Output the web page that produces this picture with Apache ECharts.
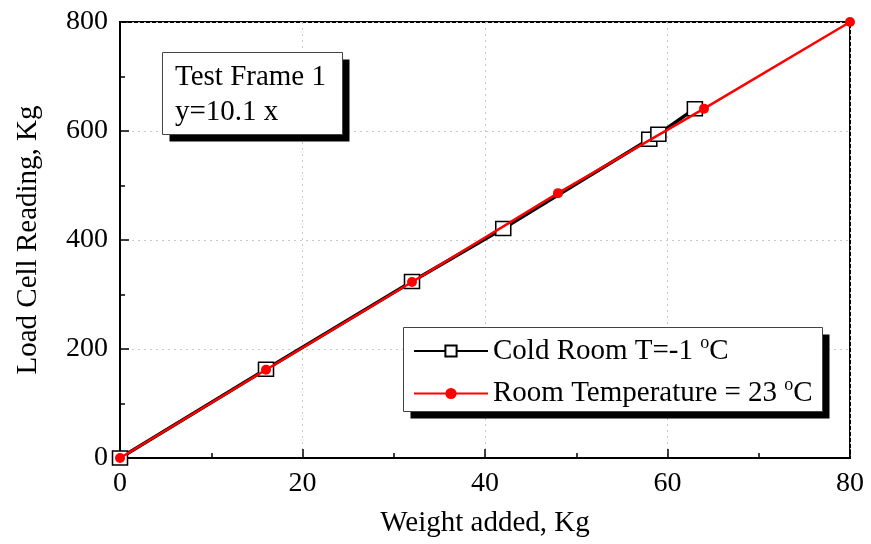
<!DOCTYPE html>
<html>
<head>
<meta charset="utf-8">
<script src="https://cdn.jsdelivr.net/npm/echarts@6/dist/echarts.min.js"></script>
<style>
  html, body { margin: 0; padding: 0; background: #fff; }
  #chart { width: 871px; height: 544px; }
</style>
</head>
<body>
<div id="chart"></div>
<script>
// 数据：冷室 / 室温 两组标定点
const coldX = [0, 16, 32, 42, 58, 59, 63];
const coldY = [0, 163, 324, 421, 585, 594, 641];
const roomX = [0, 16, 32, 48, 64, 80];
const roomY = [0, 162, 323, 486, 641, 800];
const xTicks = [0, 20, 40, 60, 80];
const yTicks = [0, 200, 400, 600, 800];

const FONT = '"Liberation Serif", "Times New Roman", serif';

// 带黑色阴影的方框（图注框 / 文字框）
function shadowBox(x, y, w, h) {
  return [{
    type: 'rect', z: 1, silent: true,
    shape: { x: x + 7, y: y + 7, width: w, height: h },
    style: { fill: '#000' }
  }, {
    type: 'rect', z: 1, silent: true,
    shape: { x: x, y: y, width: w, height: h },
    style: { fill: '#fff', stroke: '#444', lineWidth: 1 }
  }];
}

const chart = echarts.init(document.getElementById('chart'));
const option = {
  backgroundColor: '#fff',
  animation: false,
  textStyle: { fontFamily: FONT, color: '#000' },
  graphic: {
    elements: shadowBox(162.5, 52.5, 180, 82).concat(shadowBox(403.5, 327.5, 419, 84))
  },
  title: {
    text: 'Test Frame 1\ny=10.1 x',
    left: 162,
    top: 54,
    padding: [6, 14, 6, 13],
    textStyle: {
      fontFamily: FONT,
      fontWeight: 'normal',
      fontSize: 29,
      lineHeight: 35,
      color: '#000'
    }
  },
  legend: {
    orient: 'vertical',
    left: 403,
    top: 326,
    padding: [8, 10, 8, 10],
    itemGap: 11,
    itemWidth: 74,
    itemHeight: 14,
    data: ['Cold Room', 'Room Temperature'],
    formatter: function (name) {
      return name === 'Cold Room'
        ? 'Cold Room T=-1 {sup|o}C'
        : 'Room Temperature = 23 {sup|o}C';
    },
    textStyle: {
      fontFamily: FONT,
      fontSize: 29,
      color: '#000',
      rich: {
        sup: {
          fontFamily: FONT,
          fontSize: 18,
          padding: [0, 0, 16, 0]
        }
      }
    }
  },
  grid: {
    left: 120,
    right: 21,
    top: 22,
    bottom: 86,
    show: true,
    borderColor: '#000',
    borderWidth: 2,
    backgroundColor: 'transparent'
  },
  xAxis: {
    type: 'value',
    min: xTicks[0],
    max: xTicks[xTicks.length - 1],
    interval: 20,
    name: 'Weight added, Kg',
    nameLocation: 'middle',
    nameGap: 51,
    nameTextStyle: { fontFamily: FONT, fontSize: 29, color: '#000' },
    axisLine: { show: true, lineStyle: { color: '#000', width: 2 } },
    axisTick: { show: true, inside: true, length: 9, lineStyle: { color: '#000', width: 1.5 } },
    minorTick: { show: true, splitNumber: 2, length: 5, lineStyle: { color: '#000', width: 1.5 } },
    axisLabel: { fontFamily: FONT, fontSize: 28, color: '#000', margin: 12 },
    splitLine: { show: true, lineStyle: { color: '#c8c8c8', type: [2, 4], width: 1 } }
  },
  yAxis: {
    type: 'value',
    min: yTicks[0],
    max: yTicks[yTicks.length - 1],
    interval: 200,
    name: 'Load Cell Reading, Kg',
    nameLocation: 'middle',
    nameGap: 77,
    nameTextStyle: { fontFamily: FONT, fontSize: 29, color: '#000' },
    axisLine: { show: true, lineStyle: { color: '#000', width: 2 } },
    axisTick: { show: true, inside: true, length: 9, lineStyle: { color: '#000', width: 1.5 } },
    minorTick: { show: true, splitNumber: 2, length: 5, lineStyle: { color: '#000', width: 1.5 } },
    axisLabel: { fontFamily: FONT, fontSize: 28, color: '#000', margin: 12 },
    splitLine: { show: true, lineStyle: { color: '#c8c8c8', type: [2, 4], width: 1 } }
  },
  series: [{
    name: 'Cold Room',
    type: 'line',
    z: 2,
    data: coldX.map((x, i) => [x, coldY[i]]),
    symbol: 'rect',
    symbolSize: [15, 14],
    lineStyle: { color: '#000', width: 3.5 },
    itemStyle: { color: '#fff', borderColor: '#000', borderWidth: 1.5 }
  }, {
    name: 'Room Temperature',
    type: 'line',
    z: 3,
    data: roomX.map((x, i) => [x, roomY[i]]),
    symbol: 'circle',
    symbolSize: 10,
    lineStyle: { color: '#f00', width: 2.5 },
    itemStyle: { color: '#f00', borderColor: '#f00', borderWidth: 0 }
  }]
};
chart.setOption(option);
</script>
</body>
</html>
